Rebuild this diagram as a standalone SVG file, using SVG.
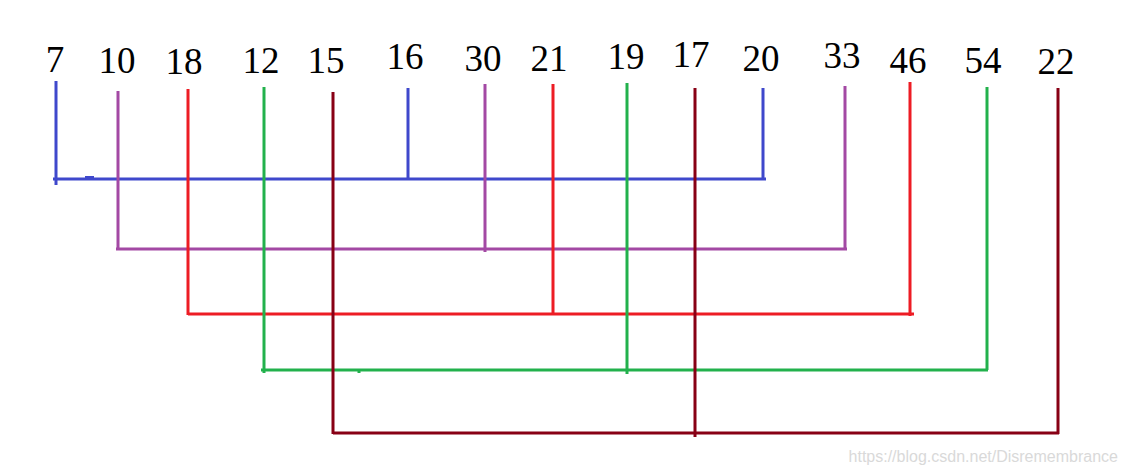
<svg xmlns="http://www.w3.org/2000/svg" width="1127" height="475" viewBox="0 0 1127 475">
<style>
.lbl{font-family:"Liberation Serif","DejaVu Serif",serif;font-size:37px;fill:#000;text-anchor:middle}
.wm{font-family:"Liberation Sans",Arial,sans-serif;font-size:16px;fill:#d9d9d9;text-anchor:end}
.c{fill:none;stroke-width:3;stroke-linecap:butt}
.blue{stroke:#3f48cc}.purple{stroke:#a349a4}.red{stroke:#ed1c24}.green{stroke:#22b14c}.dred{stroke:#880015}
</style>
<rect width="1127" height="475" fill="#fff"/>
<g id="labels">
<g id="n7"><text class="lbl" x="55" y="72">7</text></g>
<g id="n10"><text class="lbl" x="117" y="73">10</text></g>
<g id="n18"><text class="lbl" x="184" y="74">18</text></g>
<g id="n12"><text class="lbl" x="261" y="73">12</text></g>
<g id="n15"><text class="lbl" x="326" y="73">15</text></g>
<g id="n16"><text class="lbl" x="405" y="69">16</text></g>
<g id="n30"><text class="lbl" x="483" y="71">30</text></g>
<g id="n21"><text class="lbl" x="549" y="71">21</text></g>
<g id="n19"><text class="lbl" x="626" y="69">19</text></g>
<g id="n17"><text class="lbl" x="691" y="67">17</text></g>
<g id="n20"><text class="lbl" x="761" y="71">20</text></g>
<g id="n33"><text class="lbl" x="842" y="68">33</text></g>
<g id="n46"><text class="lbl" x="908" y="73">46</text></g>
<g id="n54"><text class="lbl" x="983" y="73">54</text></g>
<g id="n22"><text class="lbl" x="1056" y="74">22</text></g>
</g>
<g id="connectors">
<path class="c blue" d="M56 81V185M53 179H766M408 88V179M763 88V180M85 177.5H94"/>
<path class="c purple" d="M118 91V249M116 249H847M485 84V252M845 86V249"/>
<path class="c red" d="M188 89V315M188 314H914M553 84V314M910 82V316"/>
<path class="c green" d="M264 87V373M261 370H988M627 83V374M987 87V370M359 370V373"/>
<path class="c dred" d="M333 92V434M333 433H1059M695 88V437M1058 88V434"/>
</g>
<text class="wm" x="1118" y="462">https://blog.csdn.net/Disremembrance</text>
</svg>
